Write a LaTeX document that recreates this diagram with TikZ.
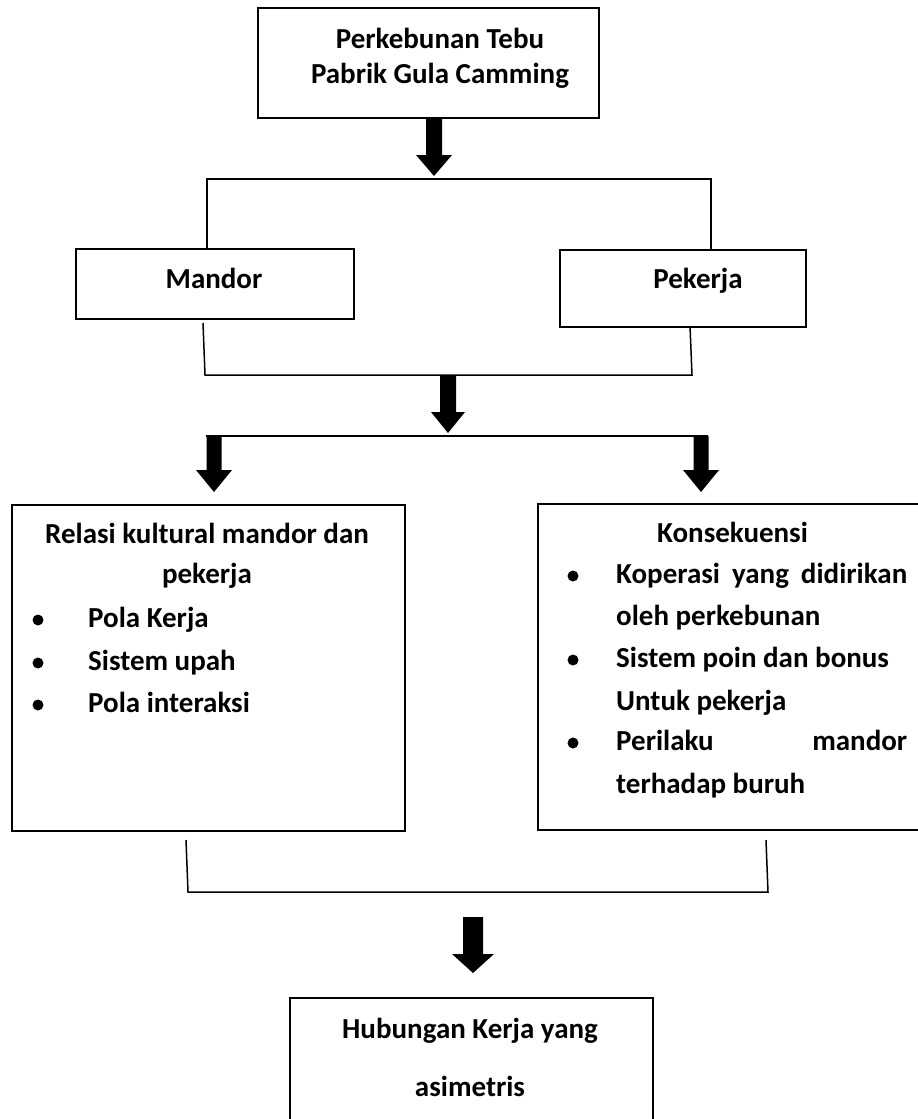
\documentclass[tikz,border=0pt]{standalone}
\usepackage{fontspec}
\setmainfont{Carlito}
\usetikzlibrary{calc}
\newcommand{\blockarrow}[5]{%
  \fill ($(#1)+(-#3,0)$) -- ($(#2)+(-#3,-#5)$) -- ($(#2)+(-#4,-#5)$) -- (#2)
    -- ($(#2)+(#4,-#5)$) -- ($(#2)+(#3,-#5)$) -- ($(#1)+(#3,0)$) -- cycle;}
\begin{document}
\begin{tikzpicture}[x=1pt,y=-1pt,
  box/.style={draw, line width=1.8pt, inner sep=0pt, anchor=north west},
  txt/.style={inner sep=0pt, font=\fontsize{29}{34}\selectfont\bfseries},
  link/.style={line width=1.5pt},
  dot/.style={circle, fill, inner sep=0pt, minimum size=11pt}]
\useasboundingbox (0,0) rectangle (918,1119);

% boxes
\node[box, minimum width=341pt, minimum height=110pt] (top) at (257,7) {};
\node[box, minimum width=278pt, minimum height=70pt] (mandor) at (75,248) {};
\node[box, minimum width=246pt, minimum height=77pt] (pekerja) at (559,249) {};
\node[box, minimum width=393pt, minimum height=326pt] (relasi) at (11,504) {};
\node[box, minimum width=403pt, minimum height=326pt] (kons) at (537,503) {};
\node[box, minimum width=363pt, minimum height=143pt] (hub) at (289,997) {};

% texts
\node[txt, anchor=base] (topA) at (440,48) {Perkebunan Tebu};
\node[txt, anchor=base] (topB) at (440,83) {Pabrik Gula Camming};
\node[txt, anchor=base] (mandorT) at (214,288) {Mandor};
\node[txt, anchor=base] (pekerjaT) at (698,288) {Pekerja};

\node[txt, anchor=base] (rel1) at (207,543) {Relasi kultural mandor dan};
\node[txt, anchor=base] (rel2) at (207,583) {pekerja};
\node[dot] (d1) at (38,620) {};
\node[dot] (d2) at (38,663) {};
\node[dot] (d3) at (38,705) {};
\node[txt, anchor=base west] (i1) at (88,627) {Pola Kerja};
\node[txt, anchor=base west] (i2) at (88,670) {Sistem upah};
\node[txt, anchor=base west] (i3) at (88,712) {Pola interaksi};

\node[txt, anchor=base west] (k0) at (657,542) {Konsekuensi};
\node[dot] (e1) at (573,576) {};
\node[dot] (e2) at (573,660) {};
\node[dot] (e3) at (573,743) {};
\node[txt, anchor=base west] (k1) at (616,583) {\makebox[291pt][s]{Koperasi yang didirikan}};
\node[txt, anchor=base west] (k2) at (616,625) {oleh perkebunan};
\node[txt, anchor=base west] (k3) at (616,667) {Sistem poin dan bonus};
\node[txt, anchor=base west] (k4) at (616,710) {Untuk pekerja};
\node[txt, anchor=base west] (k5) at (616,750) {\makebox[291pt][s]{Perilaku mandor}};
\node[txt, anchor=base west] (k6) at (616,793) {terhadap buruh};

\node[txt, anchor=base] (hub1) at (470,1038) {Hubungan Kerja yang};
\node[txt, anchor=base] (hub2) at (470,1096) {asimetris};

% upper bracket
\coordinate (b1L) at (207,179);
\coordinate (b1R) at (711,179);
\draw[link] (b1L |- mandor.north) -- (b1L) -- (b1R) -- (b1R |- pekerja.north);

% lower bracket
\coordinate (b2Lt) at (203,323);
\coordinate (b2L) at (205,375);
\coordinate (b2R) at (692,375);
\coordinate (b2Rt) at (690,326);
\draw[link] (b2Lt) -- (b2L) -- (b2R) -- (b2Rt);

% split line
\coordinate (s1L) at (206,436);
\coordinate (s1R) at (708,436);
\draw[link] (s1L) -- (s1R);

% bottom bracket
\coordinate (b3Lt) at (186,840);
\coordinate (b3L) at (188,892);
\coordinate (b3R) at (768,892);
\coordinate (b3Rt) at (766,840);
\draw[link] (b3Lt) -- (b3L) -- (b3R) -- (b3Rt);

% arrows
\coordinate (a1e) at (434,176);
\coordinate (a1s) at (a1e |- top.south);
\blockarrow{a1s}{a1e}{8}{18}{21}
\coordinate (a2e) at (448,433);
\coordinate (a2s) at (a2e |- b2L);
\blockarrow{a2s}{a2e}{8}{17}{21}
\coordinate (a3e) at (214,492);
\coordinate (a3s) at (a3e |- s1L);
\blockarrow{a3s}{a3e}{7.5}{18}{22}
\coordinate (a4e) at (701,492);
\coordinate (a4s) at (a4e |- s1R);
\blockarrow{a4s}{a4e}{7.5}{18}{22}
\coordinate (a5e) at (473,973);
\coordinate (a5s) at (473,917);
\blockarrow{a5s}{a5e}{10}{21}{19}
\end{tikzpicture}
\end{document}
